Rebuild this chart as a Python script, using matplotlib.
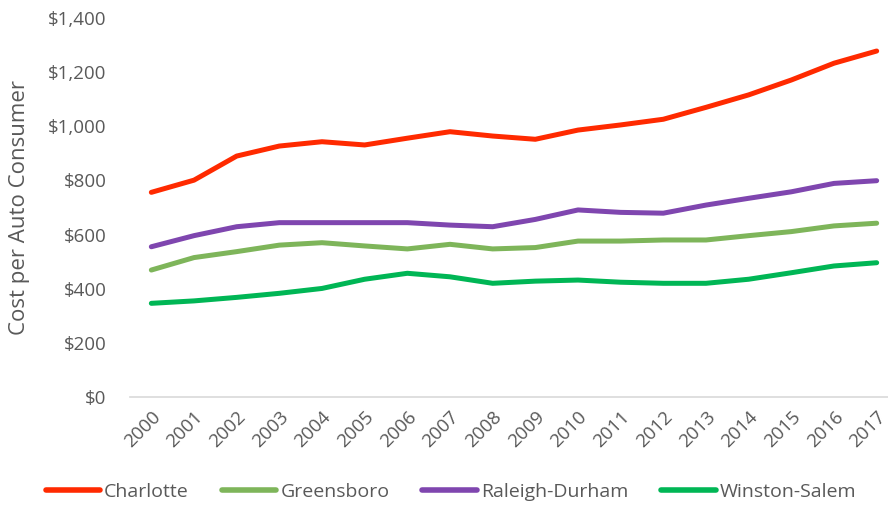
import matplotlib.pyplot as plt
from matplotlib.ticker import FuncFormatter

years = [str(y) for y in range(2000, 2018)]

charlotte = [756, 801, 890, 927, 943, 931, 956, 980, 964, 952,
             986, 1005, 1026, 1070, 1116, 1171, 1233, 1278]
greensboro = [469, 515, 537, 561, 570, 558, 547, 564, 547, 552,
              576, 576, 580, 580, 596, 611, 632, 642]
raleigh_durham = [555, 596, 629, 644, 644, 644, 644, 635, 629, 656,
                  691, 682, 679, 709, 734, 758, 789, 799]
winston_salem = [346, 355, 368, 383, 401, 435, 457, 444, 420, 428,
                 432, 424, 420, 420, 435, 459, 484, 496]

series = [
    ("Charlotte", charlotte, "#FF2A00"),
    ("Greensboro", greensboro, "#7EB55A"),
    ("Raleigh-Durham", raleigh_durham, "#7F46AF"),
    ("Winston-Salem", winston_salem, "#00B655"),
]

plt.rcParams['font.family'] = ['Open Sans', 'DejaVu Sans']
text_color = "#595959"

fig = plt.figure(figsize=(8.88, 5.14), dpi=100)
ax = fig.add_axes([130 / 888, 117 / 514, 768 / 888, 379 / 514])

x = range(len(years))
for name, vals, color in series:
    ax.plot(x, vals, color=color, linewidth=3.6, label=name,
            solid_capstyle='round', solid_joinstyle='round')

ax.set_xlim(-0.5, len(years) - 0.5)
ax.set_ylim(0, 1400)
ax.set_yticks(range(0, 1401, 200))
ax.yaxis.set_major_formatter(FuncFormatter(lambda v, p: f"${v:,.0f}"))
ax.set_xticks(list(x))
ax.set_xticklabels(years, rotation=45, ha='right', rotation_mode='anchor')

for side in ['top', 'right', 'left']:
    ax.spines[side].set_visible(False)
ax.spines['bottom'].set_color("#D9D9D9")
ax.spines['bottom'].set_linewidth(1.2)

ax.tick_params(axis='both', length=0, labelsize=13.5, colors=text_color)
ax.tick_params(axis='y', pad=17)
ax.tick_params(axis='x', pad=8)

ax.set_ylabel("Cost per Auto Consumer", fontsize=16, color=text_color)
ax.yaxis.set_label_coords(-100 / 768, 0.5)

leg = fig.legend(loc='center', bbox_to_anchor=(451 / 888, 1 - 492 / 514), ncol=4,
                 frameon=False, fontsize=14, handlelength=2.8, handletextpad=0.2,
                 columnspacing=1.7)
for t in leg.get_texts():
    t.set_color(text_color)
for h in leg.get_lines():
    h.set_linewidth(4)

fig.savefig("out.png", dpi=100)
